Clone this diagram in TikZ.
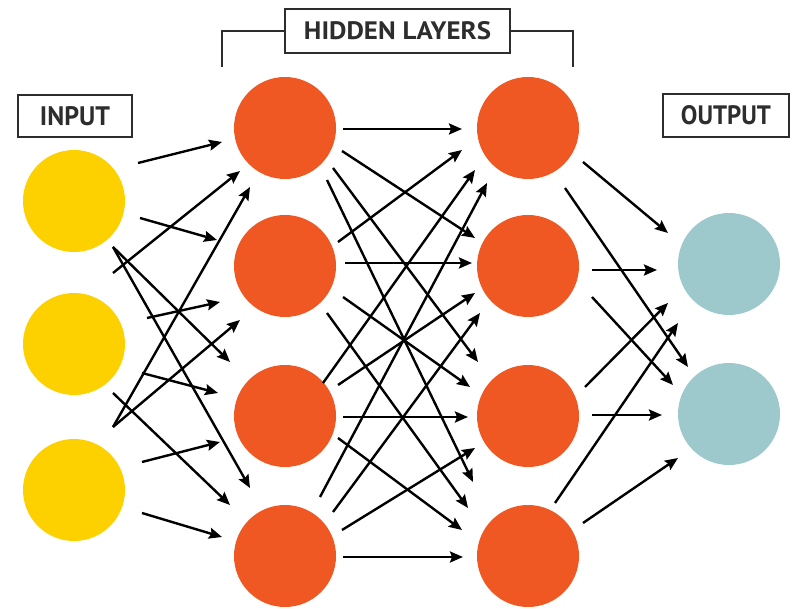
\documentclass[tikz,border=0pt]{standalone}
\usepackage{fontspec}
\usepackage{graphicx}
\setmainfont{PT Sans}
\usetikzlibrary{arrows.meta}
\definecolor{inyellow}{RGB}{253,208,0}
\definecolor{hidorange}{RGB}{240,88,35}
\definecolor{outteal}{RGB}{158,201,204}
\definecolor{boxgray}{RGB}{45,45,45}
\tikzset{
  neuron/.style={circle, inner sep=0pt, minimum size=102pt, draw=none},
  inneuron/.style={neuron, fill=inyellow},
  hidneuron/.style={neuron, fill=hidorange},
  outneuron/.style={neuron, fill=outteal},
  lbox/.style={draw=boxgray, line width=2.2pt, text=boxgray, inner sep=0pt, font=\bfseries},
  bracket/.style={draw=boxgray, line width=2.2pt},
  arr/.style={line width=2.4pt, -{Stealth[length=13pt,width=11pt,inset=2pt]}},
}
\newcommand{\conn}[6]{\draw[arr] ([shift={(#2,#3)}]#1.center) -- ([shift={(#5,#6)}]#4.center);}
\begin{document}
\begin{tikzpicture}[x=1pt,y=-1pt]
\useasboundingbox (0,0) rectangle (793,609);
% labels
\node[lbox, minimum width=114pt, minimum height=42pt] (inlab) at (75,116) {\resizebox{70pt}{19pt}{INPUT}};
\node[lbox, minimum width=225pt, minimum height=44pt] (hidlab) at (397.5,31) {\resizebox{187pt}{18pt}{HIDDEN LAYERS}};
\node[lbox, minimum width=126pt, minimum height=43pt] (outlab) at (726,115.5) {\resizebox{90pt}{19pt}{OUTPUT}};
\draw[bracket] (hidlab.west) -- ++(-62,0) -- ++(0,36);
\draw[bracket] (hidlab.east) -- ++(62,0) -- ++(0,36);
% neurons
\node[inneuron] (i1) at (74,201) {};
\node[inneuron] (i2) at (74,344) {};
\node[inneuron] (i3) at (74,490) {};
\node[hidneuron] (a1) at (285,128) {};
\node[hidneuron] (a2) at (285,266) {};
\node[hidneuron] (a3) at (285,416) {};
\node[hidneuron] (a4) at (285,556) {};
\node[hidneuron] (b1) at (528,128) {};
\node[hidneuron] (b2) at (528,266) {};
\node[hidneuron] (b3) at (528,416) {};
\node[hidneuron] (b4) at (528,556) {};
\node[outneuron] (o1) at (729,264) {};
\node[outneuron] (o2) at (729,414) {};
% input -> hidden 1
\conn{i1}{64}{-38}{a1}{-63}{14}
\conn{i1}{66}{17}{a2}{-68}{-26}
\conn{i1}{39}{46}{a3}{-55}{-54}
\conn{i1}{39}{46}{a4}{-35}{-68}
\conn{i2}{39}{-71}{a1}{-45}{43}
\conn{i2}{73}{-26}{a2}{-65}{36}
\conn{i2}{68}{29}{a3}{-67}{-23}
\conn{i2}{39}{49}{a4}{-55}{-51}
\conn{i3}{39}{-63}{a1}{-35}{59}
\conn{i3}{39}{-63}{a2}{-45}{54}
\conn{i3}{68}{-28}{a3}{-65}{26}
\conn{i3}{68}{23}{a4}{-63}{-19}
% hidden 1 -> hidden 2
\conn{a1}{58}{1}{b1}{-66}{1}
\conn{a1}{57}{23}{b2}{-53}{-28}
\conn{a1}{48}{40}{b3}{-50}{-54}
\conn{a1}{42}{52}{b4}{-55}{-74}
\conn{a2}{53}{-24}{b1}{-66}{22}
\conn{a2}{60}{-3}{b2}{-56}{-3}
\conn{a2}{58}{31}{b3}{-58}{-29}
\conn{a2}{42}{47}{b4}{-60}{-48}
\conn{a3}{38}{-33}{b1}{-53}{42}
\conn{a3}{53}{-31}{b2}{-53}{27}
\conn{a3}{58}{1}{b3}{-60}{1}
\conn{a3}{53}{22}{b4}{-66}{-26}
\conn{a4}{35}{-59}{b1}{-41}{55}
\conn{a4}{48}{-44}{b2}{-48}{47}
\conn{a4}{57}{-26}{b3}{-53}{32}
\conn{a4}{58}{1}{b4}{-65}{1}
% hidden 2 -> output
\conn{b1}{55}{34}{o1}{-61}{-31}
\conn{b1}{37}{60}{o2}{-41}{-47}
\conn{b2}{64}{4}{o1}{-72}{6}
\conn{b2}{64}{31}{o2}{-56}{-29}
\conn{b3}{57}{-29}{o1}{-61}{39}
\conn{b3}{64}{-1}{o2}{-67}{1}
\conn{b4}{27}{-53}{o1}{-51}{59}
\conn{b4}{55}{-33}{o2}{-51}{44}
\end{tikzpicture}
\end{document}
